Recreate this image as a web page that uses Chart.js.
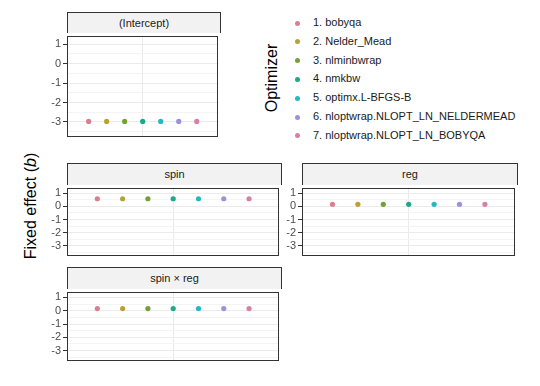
<!DOCTYPE html>
<html>
<head>
<meta charset="utf-8">
<script src="https://cdn.jsdelivr.net/npm/chart.js@4/dist/chart.umd.min.js"></script>
<style>
  html, body { margin:0; padding:0; background:#fff; }
  body { width:540px; height:386px; position:relative; overflow:hidden; font-family:"Liberation Sans", Arial, sans-serif; }
  .strip { position:absolute; box-sizing:border-box; background:#f2f2f2; border:1px solid #333; border-bottom:none;
           font-size:11px; color:#1a1a1a; text-align:center; }
  .panel { position:absolute; }
  .rot { position:absolute; transform:translate(-50%,-50%) rotate(-90deg); white-space:nowrap; color:#000; }
  .leg { position:absolute; font-size:11px; color:#1a1a1a; white-space:nowrap; }
  .dot { position:absolute; width:5px; height:5px; border-radius:50%; }
</style>
</head>
<body>
<div class="rot" style="left:31px; top:206px; font-size:16px;">Fixed effect (<i>b</i>)</div>
<div class="rot" style="left:272px; top:78px; font-size:16px;">Optimizer</div>
<div id="legend"></div>
<div id="panels"></div>
<script>
// ---- data ----
const optimizers = ["1. bobyqa","2. Nelder_Mead","3. nlminbwrap","4. nmkbw","5. optimx.L-BFGS-B","6. nloptwrap.NLOPT_LN_NELDERMEAD","7. nloptwrap.NLOPT_LN_BOBYQA"];
const optimizerX = [1,2,3,4,5,6,7];
const terms = ["(Intercept)","spin","reg","spin × reg"];
const interceptValues = [-2.97,-2.97,-2.97,-2.97,-2.97,-2.97,-2.97];
const spinValues = [0.59,0.59,0.59,0.59,0.59,0.59,0.59];
const regValues = [0.16,0.16,0.16,0.16,0.16,0.16,0.16];
const spinRegValues = [0.16,0.16,0.16,0.16,0.16,0.16,0.16];
const yTickValues = [-3,-2,-1,0,1];
const yMinorValues = [-3.5,-2.5,-1.5,-0.5,0.5];

// ---- styles / layout ----
const colors = ["#d8808e","#b9a234","#74a134","#1ca98a","#24b8c9","#9d90dc","#d97ea6"];
const seriesByTerm = [interceptValues, spinValues, regValues, spinRegValues];
const panelBoxes = [
  {left:67, right:221, stripTop:12, plotTop:33, plotBottom:138},
  {left:67, right:282, stripTop:163, plotTop:185, plotBottom:257},
  {left:302, right:518, stripTop:163, plotTop:185, plotBottom:257},
  {left:67, right:282, stripTop:267, plotTop:289, plotBottom:362}
];
const axisW = 30;
const FONT = "'Liberation Sans', Arial, sans-serif";

// legend
const legEl = document.getElementById('legend');
optimizers.forEach((name,i)=>{
  const y = 23 + i*18.8;
  const d = document.createElement('div');
  d.className='dot'; d.style.left='295px'; d.style.top=(y-2.5)+'px'; d.style.background=colors[i];
  legEl.appendChild(d);
  const t = document.createElement('div');
  t.className='leg'; t.style.left='313px'; t.style.top=(y-7)+'px'; t.textContent=name;
  legEl.appendChild(t);
});

const borderPlugin = {
  id:'panelBorder',
  afterDraw(chart){
    const a = chart.chartArea, c = chart.ctx;
    c.save(); c.strokeStyle='#333'; c.lineWidth=1;
    c.strokeRect(Math.round(a.left)+0.5, Math.round(a.top)+0.5, Math.round(a.right-a.left)-1, Math.round(a.bottom-a.top)-1);
    c.restore();
  }
};

const panelsEl = document.getElementById('panels');
terms.forEach((term, p)=>{
  const b = panelBoxes[p];
  const strip = document.createElement('div');
  strip.className='strip';
  strip.style.left=b.left+'px'; strip.style.width=(b.right-b.left)+'px';
  strip.style.top=b.stripTop+'px'; strip.style.height=(b.plotTop-b.stripTop)+'px';
  strip.style.lineHeight=(b.plotTop-b.stripTop-1)+'px';
  strip.textContent=term;
  panelsEl.appendChild(strip);

  const wrap = document.createElement('div');
  wrap.className='panel';
  const w = b.right-b.left+axisW, h = b.plotBottom-b.plotTop+1;
  wrap.style.left=(b.left-axisW)+'px'; wrap.style.top=b.plotTop+'px';
  wrap.style.width=w+'px'; wrap.style.height=h+'px';
  const cv = document.createElement('canvas');
  cv.width=w; cv.height=h; cv.style.width=w+'px'; cv.style.height=h+'px';
  wrap.appendChild(cv); panelsEl.appendChild(wrap);

  const vals = seriesByTerm[p];
  new Chart(cv, {
    type:'scatter',
    data:{ datasets: optimizers.map((name,i)=>({
      label:name,
      data:[{x:optimizerX[i], y:vals[i]}],
      backgroundColor:colors[i], borderColor:colors[i],
      pointRadius:2.6, pointBorderWidth:0, pointHoverRadius:2.6
    }))},
    options:{
      responsive:false, maintainAspectRatio:false, animation:false, devicePixelRatio:1,
      layout:{padding:0},
      plugins:{legend:{display:false}, tooltip:{enabled:false}},
      scales:{
        x:{
          type:'linear', min:-0.2, max:8.2,
          afterBuildTicks(s){ s.ticks=[{value:4}]; },
          afterFit(s){ s.height=0; s.paddingLeft=0; s.paddingRight=0; s.paddingTop=0; s.paddingBottom=0; },
          ticks:{display:false},
          border:{display:false},
          grid:{color:'#ebebeb', drawTicks:false, lineWidth:1}
        },
        y:{
          type:'linear', min:-3.74, max:1.44,
          afterBuildTicks(s){ s.ticks=[...yMinorValues, ...yTickValues].sort((a,c)=>a-c).map(v=>({value:v})); },
          afterFit(s){ s.width=axisW; s.paddingTop=0; s.paddingBottom=0; s.paddingLeft=0; s.paddingRight=0; },
          border:{display:false},
          ticks:{
            autoSkip:false, padding:2, color:'#4d4d4d', font:{family:FONT, size:11},
            callback:(v)=> yTickValues.includes(v) ? String(v) : ''
          },
          grid:{
            tickLength:4,
            color:(ctx)=> (ctx.tick && Number.isInteger(ctx.tick.value)) ? '#ebebeb' : '#f4f4f4',
            tickColor:(ctx)=> (ctx.tick && Number.isInteger(ctx.tick.value)) ? '#333' : 'rgba(0,0,0,0)'
          }
        }
      }
    },
    plugins:[borderPlugin]
  });
});
</script>
</body>
</html>
